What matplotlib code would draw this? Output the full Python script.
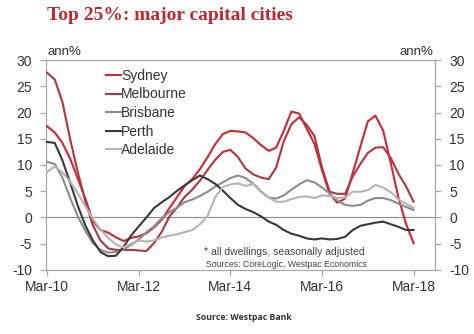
import numpy as np
import pandas as pd
import matplotlib
matplotlib.use('Agg')
from matplotlib import pyplot as plt
import matplotlib.dates as mdates

# bi-monthly readings, Mar-10 .. Mar-18 (ann% change, top 25% of dwellings)
dates = pd.date_range('2010-03-01', '2018-03-01', freq='2MS')

sydney = [17.4, 16.2, 14.2, 11.2, 7.4, 3.5, -0.7, -2.4, -2.9, -3.8, -4.5, -3.9, -3.6,
          -3.0, -1.9, -0.4, 1.8, 3.9, 6.0, 7.3, 9.2, 11.5, 14.0, 15.9, 16.5, 16.4,
          16.2, 15.1, 13.8, 12.7, 13.3, 16.5, 20.2, 19.8, 16.9, 14.0, 9.0, 4.5, 2.8,
          3.6, 8.5, 13.5, 18.3, 19.4, 16.6, 10.3, 3.7, -1.3, -4.9]
melbourne = [27.6, 26.3, 22.0, 14.9, 8.6, 3.0, -1.5, -4.4, -5.9, -6.2, -6.2, -6.2, -6.3,
             -6.4, -4.9, -2.7, 0.2, 1.9, 3.9, 5.3, 7.0, 9.1, 11.0, 12.5, 12.9, 11.5,
             9.3, 8.2, 7.6, 7.3, 9.5, 14.5, 17.8, 19.1, 17.6, 15.5, 9.5, 4.9, 4.5,
             4.5, 7.8, 10.2, 12.3, 13.3, 13.4, 11.3, 8.3, 5.9, 3.0]
brisbane = [10.6, 10.2, 7.6, 3.7, 0.2, -2.6, -4.9, -6.2, -6.7, -6.6, -6.1, -5.2, -4.2,
            -2.8, -1.7, -0.1, 1.0, 1.9, 2.9, 3.4, 4.1, 4.9, 5.9, 6.7, 7.5, 8.0,
            7.5, 6.4, 4.9, 3.8, 3.6, 4.2, 5.3, 6.3, 7.1, 6.7, 5.7, 4.6, 3.2,
            2.4, 2.2, 2.4, 3.2, 3.7, 3.7, 3.3, 2.6, 2.0, 1.4]
perth = [14.4, 14.2, 10.9, 6.6, 2.2, -1.6, -4.4, -6.6, -7.4, -7.3, -5.6, -3.4, -1.7,
         0.0, 1.8, 2.9, 3.9, 5.1, 6.1, 7.1, 8.0, 7.3, 6.4, 5.1, 3.7, 2.4,
         1.6, 1.0, 0.2, -0.8, -1.4, -2.4, -3.1, -3.5, -4.0, -4.2, -4.0, -4.2, -4.1,
         -3.7, -2.4, -1.6, -1.3, -1.0, -0.8, -1.3, -1.8, -2.4, -2.4]
adelaide = [8.7, 9.7, 8.6, 6.8, 4.6, 2.1, -0.3, -2.3, -3.9, -5.2, -5.7, -5.0, -4.4,
            -4.6, -4.4, -3.8, -3.5, -3.2, -2.8, -2.4, -1.3, 0.3, 3.9, 5.8, 6.3, 6.5,
            6.0, 6.4, 5.0, 3.8, 3.0, 3.0, 3.5, 3.9, 4.0, 3.7, 4.2, 4.1, 3.7,
            3.8, 4.9, 4.9, 5.2, 6.2, 5.7, 4.8, 3.4, 2.6, 1.8]

names = ['Sydney', 'Melbourne', 'Brisbane', 'Perth', 'Adelaide']
colors = ['#d42532', '#b3343c', '#8c8c8c', '#383838', '#b4b4b4']
yticks = [30, 25, 20, 15, 10, 5, 0, -5, -10]
xtick_dates = pd.to_datetime(['2010-03-01', '2012-03-01', '2014-03-01',
                              '2016-03-01', '2018-03-01'])

plt.rcParams['font.family'] = ['Liberation Sans', 'DejaVu Sans']
plt.rcParams['axes.unicode_minus'] = False

fig = plt.figure(figsize=(4.74, 3.34), dpi=100)
ax = fig.add_axes([0.097, 0.192, 0.821, 0.628])

ax.axhline(0, color='#8a8a8a', lw=0.8, zorder=1)
for series, name, c in zip([sydney, melbourne, brisbane, perth, adelaide], names, colors):
    ax.plot(dates, series, color=c, lw=1.5, label=name, zorder=3)

ax.set_ylim(-10, 30)
ax.set_xlim(pd.Timestamp('2010-02-20'), pd.Timestamp('2018-08-20'))
ax.set_yticks(yticks)
ax.set_xticks(xtick_dates)
ax.xaxis.set_major_formatter(mdates.DateFormatter('Mar-%y'))

for s in ax.spines.values():
    s.set_color('#a8a8a8')
    s.set_linewidth(0.9)
ax.tick_params(axis='both', colors='#a8a8a8', labelcolor='#333333', labelsize=10,
               length=4, width=0.9, direction='out')
ax.tick_params(axis='y', left=True, right=True, labelleft=True, labelright=True, pad=6)
ax.tick_params(axis='x', pad=3)

ax.text(0.005, 1.01, 'ann%', transform=ax.transAxes, fontsize=9.5, color='#333333',
        ha='left', va='bottom')
ax.text(0.995, 1.01, 'ann%', transform=ax.transAxes, fontsize=9.5, color='#333333',
        ha='right', va='bottom')

leg = ax.legend(loc='upper left', bbox_to_anchor=(0.14, 0.985), frameon=False,
                fontsize=10, handlelength=1.1, handletextpad=0.0, labelspacing=0.33,
                borderaxespad=0)
for t in leg.get_texts():
    t.set_color('#333333')

ax.text(0.405, 0.085, '* all dwellings, seasonally adjusted', transform=ax.transAxes,
        fontsize=7.5, color='#444444', ha='left', va='center')
ax.text(0.41, 0.025, 'Sources: CoreLogic, Westpac Economics', transform=ax.transAxes,
        fontsize=6.3, color='#444444', ha='left', va='center')

fig.text(0.099, 0.955, 'Top 25%: major capital cities', fontsize=14, fontweight='bold',
         family='Liberation Serif', color='#c1272d', ha='left', va='center')
fig.text(0.515, 0.048, 'Source: Westpac Bank', fontsize=6.3, fontweight='bold',
         family='Open Sans', color='#333333', ha='center', va='center')

fig.savefig('out.png', dpi=100)
